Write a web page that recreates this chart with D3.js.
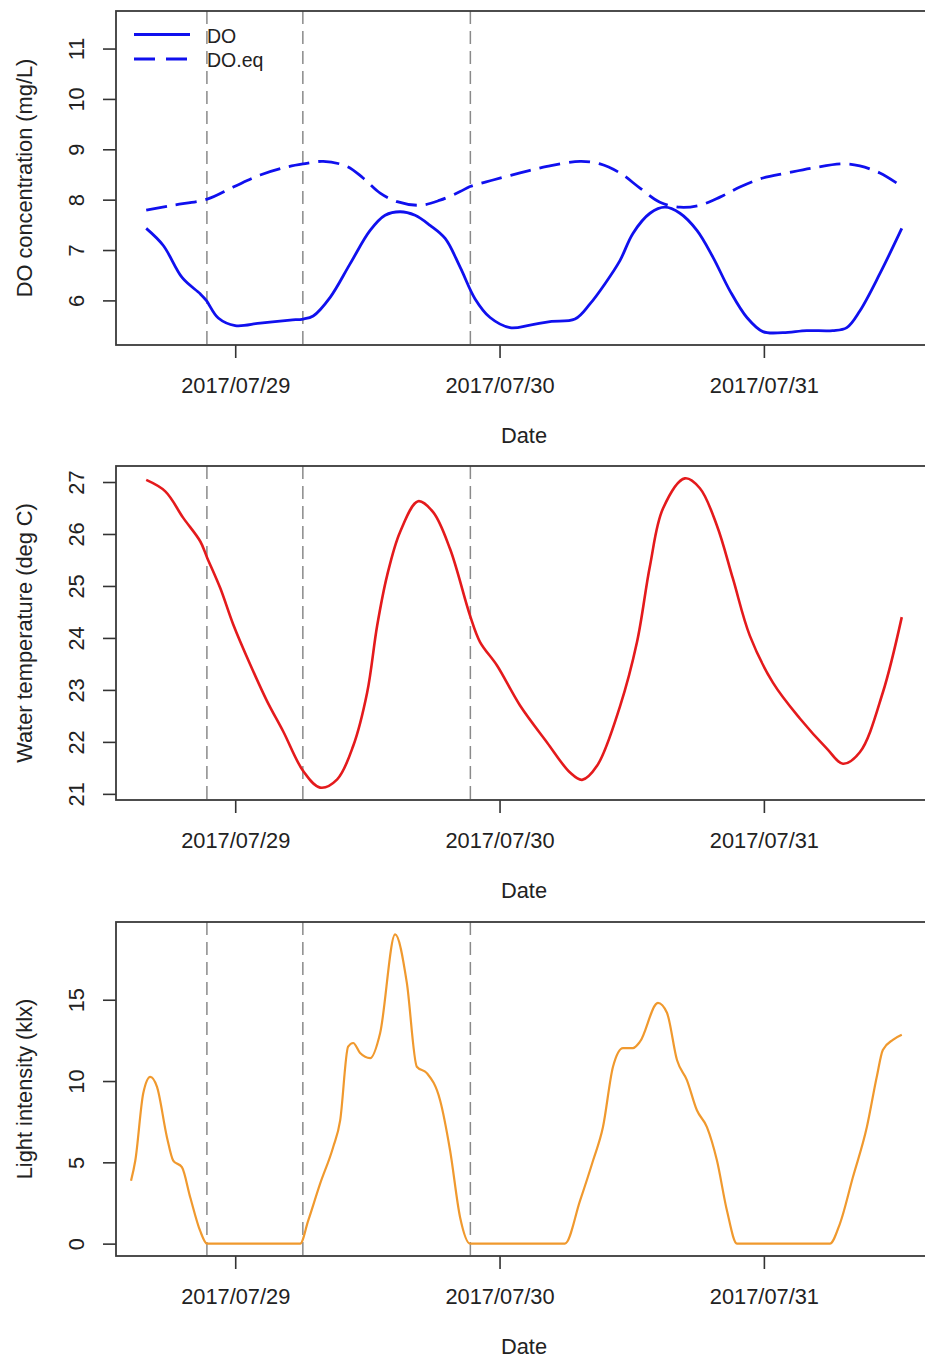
<!DOCTYPE html>
<html>
<head>
<meta charset="utf-8">
<script src="https://cdn.jsdelivr.net/npm/d3@7"></script>
<style>
  body { margin: 0; background: #fff; }
  text { font-family: "Liberation Sans", Arial, Helvetica, sans-serif; fill: #222; }
</style>
</head>
<body>
<svg id="chart" width="925" height="1357"></svg>
<script>
// Times are hours relative to 2017-07-29 00:00 (local time).
const doHours = [-8.08, -6.53, -4.81, -3.18, -2.63, -1.54, 0, 2.27, 4.99, 6.17, 7.08, 8.62, 10.44, 12.25, 13.61,
  14.97, 16.33, 17.69, 19.06, 20.42, 21.78, 23.14, 24.95, 26.77, 28.58, 30.85, 32.21, 33.57, 34.93, 36.11,
  37.66, 39.02, 40.38, 41.92, 43.37, 44.92, 46.46, 47.91, 49.73, 51.90, 54.26, 55.53, 56.71, 58.53, 60.52];
const doValues = [7.43, 7.09, 6.45, 6.13, 6.00, 5.65, 5.50, 5.55, 5.61, 5.63, 5.69, 6.06, 6.73, 7.39, 7.69,
  7.76, 7.69, 7.49, 7.23, 6.66, 6.03, 5.66, 5.46, 5.51, 5.58, 5.63, 5.93, 6.33, 6.79, 7.33,
  7.73, 7.85, 7.73, 7.39, 6.86, 6.19, 5.66, 5.38, 5.36, 5.40, 5.40, 5.46, 5.79, 6.53, 7.43];

const doEqHours = [-8.08, -5.63, -2.54, -0.18, 2.27, 4.72, 6.17, 7.99, 10.16, 11.61, 13.16, 14.70, 16.79, 18.60,
  20.42, 21.32, 23.41, 25.86, 28.31, 31.31, 33.12, 34.93, 36.75, 38.56, 40.38, 42.19, 44.01, 45.82,
  47.91, 50.09, 52.45, 55.17, 56.71, 58.53, 60.34];
const doEqValues = [7.79, 7.89, 8.01, 8.25, 8.49, 8.65, 8.71, 8.76, 8.66, 8.43, 8.13, 7.96, 7.89, 7.99,
  8.16, 8.26, 8.39, 8.53, 8.66, 8.76, 8.71, 8.53, 8.23, 7.95, 7.85, 7.89, 8.05, 8.25,
  8.43, 8.53, 8.63, 8.71, 8.67, 8.53, 8.29];

const tempHours = [-8.08, -6.35, -4.72, -3.18, -2.54, -1.36, -0.18, 1.36, 2.90, 4.36, 6.17, 7.71, 9.26, 10.71,
  11.98, 12.89, 13.79, 14.97, 16.61, 17.97, 19.51, 21.32, 22.23, 23.77, 25.86, 28.31, 30.40, 31.49,
  32.85, 34.93, 36.48, 37.66, 38.84, 40.83, 42.19, 43.74, 45.19, 46.73, 48.82, 51.27, 53.72, 55.17,
  56.71, 58.80, 60.52];
const tempValues = [27.04, 26.82, 26.31, 25.86, 25.54, 24.96, 24.26, 23.49, 22.78, 22.20, 21.44, 21.12, 21.28, 21.92,
  22.95, 24.24, 25.20, 26.04, 26.63, 26.42, 25.71, 24.43, 23.92, 23.47, 22.70, 21.99, 21.41, 21.27,
  21.54, 22.68, 23.92, 25.39, 26.49, 27.07, 26.88, 26.16, 25.14, 24.04, 23.14, 22.45, 21.87, 21.58,
  21.80, 22.95, 24.40];

const lightHours = [-9.46, -9.07, -8.35, -7.71, -7.10, -6.20, -5.63, -4.84, -4.08, -3.18, -2.57,
  5.90, 6.62, 7.71, 8.89, 9.53, 10.25, 10.71, 11.34, 12.25, 13.16, 14.52, 15.58, 16.49, 17.40, 18.60,
  19.51, 20.42, 21.32, 29.94, 31.31, 32.49, 33.39, 34.30, 35.21, 36.11, 36.75, 38.38, 39.20, 40.11,
  41.01, 41.92, 42.83, 43.74, 44.65, 45.55, 53.99, 54.90, 56.08, 57.35, 58.25, 58.80, 59.71, 60.52];
const lightValues = [3.87, 5.11, 9.25, 10.26, 9.64, 6.55, 5.11, 4.70, 2.84, 0.78, 0,
  0, 1.40, 3.69, 5.93, 7.58, 12.11, 12.34, 11.72, 11.41, 12.96, 19.02, 16.05, 10.88, 10.49, 8.82,
  5.73, 1.61, 0, 0, 2.64, 5.11, 7.17, 10.88, 12.03, 12.03, 12.42, 14.81, 14.20, 11.29,
  10.06, 8.20, 7.17, 5.11, 2.02, 0, 0, 1.22, 4.08, 7.17, 10.26, 11.91, 12.53, 12.84];

// Sunset / sunrise markers (hours relative to 2017-07-29 00:00)
const markerHours = [-2.57, 6.14, 21.35];

// Axis ticks
const dateTicks = ["2017-07-29", "2017-07-30", "2017-07-31"];
const doTicks = [6, 7, 8, 9, 10, 11];
const tempTicks = [21, 22, 23, 24, 25, 26, 27];
const lightTicks = [0, 5, 10, 15];

const legendLabels = ["DO", "DO.eq"];
const yTitles = ["DO concentration (mg/L)", "Water temperature (deg C)", "Light intensity (klx)"];
const xTitle = "Date";

// ---------------------------------------------------------------------------
const origin = new Date(2017, 6, 29, 0, 0, 0);
const toDate = h => new Date(origin.getTime() + h * 3600e3);
const parseDay = d3.timeParse("%Y-%m-%d");
const zip = (hs, vs) => hs.map((h, i) => ({ t: toDate(h), v: vs[i] }));

const doData = zip(doHours, doValues);
const doEqData = zip(doEqHours, doEqValues);
const tempData = zip(tempHours, tempValues);
const lightData = zip(lightHours, lightValues);

// extend a range by 4% on each side
const pad = ([a, b]) => { const d = (b - a) * 0.04; return [a - d, b + d]; };

const svg = d3.select("#chart");
const left = 116, right = 932, panelH = 334;
const tops = [11, 466, 922];
const fontSize = 21.8;

const xExt = pad(d3.extent(doData, d => +d.t));
const x = d3.scaleTime().domain([new Date(xExt[0]), new Date(xExt[1])]).range([left, right]);

const panels = [
  { top: tops[0], ylim: [d3.min(doData, d => d.v), 11.5], ticks: doTicks, title: yTitles[0] },
  { top: tops[1], ylim: d3.extent(tempData, d => d.v), ticks: tempTicks, title: yTitles[1] },
  { top: tops[2], ylim: d3.extent(lightData, d => d.v), ticks: lightTicks, title: yTitles[2] }
];

panels.forEach(p => {
  p.y = d3.scaleLinear().domain(pad(p.ylim)).range([p.top + panelH, p.top]);
  const g = svg.append("g");
  p.g = g;
  const bottom = p.top + panelH;

  // sunset / sunrise markers
  g.selectAll("line.marker").data(markerHours).join("line")
    .attr("class", "marker")
    .attr("x1", d => x(toDate(d))).attr("x2", d => x(toDate(d)))
    .attr("y1", p.top).attr("y2", bottom)
    .attr("stroke", "#8a8a8a").attr("stroke-width", 1.5).attr("stroke-dasharray", "13,7");

  // x axis
  const xa = g.append("g").attr("transform", `translate(0,${bottom})`)
    .call(d3.axisBottom(x).tickValues(dateTicks.map(parseDay))
      .tickFormat(d3.timeFormat("%Y/%m/%d")).tickSize(13).tickPadding(0));
  xa.select(".domain").remove();
  xa.selectAll(".tick line").attr("stroke", "#333").attr("stroke-width", 1.6);
  xa.selectAll(".tick text").attr("y", 48).attr("dy", null)
    .attr("font-size", fontSize).attr("fill", "#222");

  // y axis
  const ya = g.append("g").attr("transform", `translate(${left},0)`)
    .call(d3.axisLeft(p.y).tickValues(p.ticks).tickFormat(d3.format("d")).tickSize(13));
  ya.select(".domain").remove();
  ya.selectAll(".tick line").attr("stroke", "#333").attr("stroke-width", 1.6);
  ya.selectAll(".tick text")
    .attr("x", null).attr("dy", null).attr("y", null)
    .attr("text-anchor", "middle")
    .attr("transform", "translate(-32.5,0) rotate(-90)")
    .attr("font-size", fontSize).attr("fill", "#222");

  // titles
  g.append("text").attr("x", (left + right) / 2).attr("y", bottom + 97.5)
    .attr("text-anchor", "middle").attr("font-size", fontSize).text(xTitle);
  g.append("text")
    .attr("transform", `translate(31.5,${p.top + panelH / 2}) rotate(-90)`)
    .attr("text-anchor", "middle").attr("font-size", fontSize).text(p.title);

  // clip for data
  p.clipId = "clip" + p.top;
  svg.append("clipPath").attr("id", p.clipId).append("rect")
    .attr("x", left).attr("y", p.top).attr("width", right - left).attr("height", panelH);
});

const smoothLine = y => d3.line().x(d => x(d.t)).y(d => y(d.v)).curve(d3.curveCatmullRom.alpha(0.5));
// monotone keeps the night-time zeros flat
const flatLine = y => d3.line().x(d => x(d.t)).y(d => y(d.v)).curve(d3.curveMonotoneX);

// DO panel
const p0 = panels[0];
p0.g.append("path").datum(doEqData).attr("d", smoothLine(p0.y))
  .attr("fill", "none").attr("stroke", "#1010ee").attr("stroke-width", 2.8)
  .attr("stroke-dasharray", "21,9").attr("clip-path", `url(#${p0.clipId})`);
p0.g.append("path").datum(doData).attr("d", smoothLine(p0.y))
  .attr("fill", "none").attr("stroke", "#1010ee").attr("stroke-width", 2.8)
  .attr("clip-path", `url(#${p0.clipId})`);

// legend
const leg = p0.g.append("g");
legendLabels.forEach((lab, i) => {
  const ly = 34.5 + i * 24.5;
  leg.append("line").attr("x1", 134).attr("x2", 190).attr("y1", ly).attr("y2", ly)
    .attr("stroke", "#1010ee").attr("stroke-width", 2.8)
    .attr("stroke-dasharray", i === 1 ? "21,11" : null);
  leg.append("text").attr("x", 207).attr("y", ly + 8).attr("font-size", 19.5).text(lab);
});

// temperature panel
const p1 = panels[1];
p1.g.append("path").datum(tempData).attr("d", smoothLine(p1.y))
  .attr("fill", "none").attr("stroke", "#e41a1c").attr("stroke-width", 2.6)
  .attr("clip-path", `url(#${p1.clipId})`);

// light panel
const p2 = panels[2];
p2.g.append("path").datum(lightData).attr("d", flatLine(p2.y))
  .attr("fill", "none").attr("stroke", "#f0992e").attr("stroke-width", 2.2)
  .attr("clip-path", `url(#${p2.clipId})`);

// panel frames
panels.forEach(p => {
  p.g.append("rect").attr("x", left).attr("y", p.top).attr("width", right - left).attr("height", panelH)
    .attr("fill", "none").attr("stroke", "#3a3a3a").attr("stroke-width", 1.8);
});
</script>
</body>
</html>
